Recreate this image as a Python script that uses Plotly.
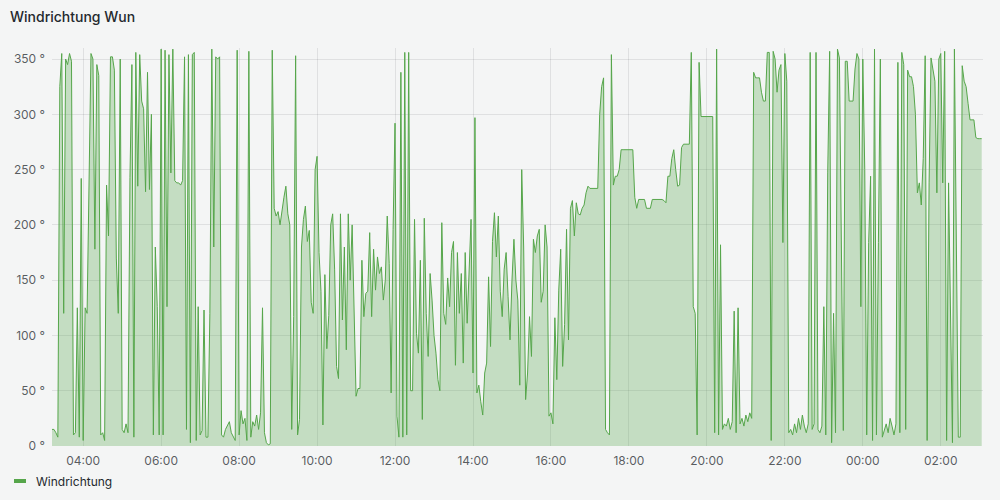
import plotly.graph_objects as go
import pandas as pd

title_text = "Windrichtung Wun"
series_name = "Windrichtung"
start_time = "2024-05-01 03:12"
step_minutes = 3
x_range = ["2024-05-01 03:12", "2024-05-02 03:05"]
x_tick_start = "2024-05-01 04:00"
y_tick_values = [0, 50, 100, 150, 200, 250, 300, 350]
y_tick_labels = ["0 °", "50 °", "100 °", "150 °", "200 °", "250 °", "300 °", "350 °"]

# wind direction (degrees), one reading every 3 minutes, grouped in 4-hour blocks
dir_0312 = [15, 15, 12, 8, 325, 355, 120, 350, 345, 355, 348, 10, 12, 125, 8, 242, 5, 125, 120, 240,
            355, 350, 178, 345, 335, 10, 12, 5, 236, 190, 352, 352, 340, 170, 120, 350, 15, 12, 20, 12,
            243, 345, 8, 356, 235, 354, 312, 305, 230, 338, 232, 300, 10, 180, 126, 10, 359, 10, 358, 126,
            354, 247, 359, 240, 238, 238, 236, 240, 352, 15, 354, 3, 354, 356, 5, 126, 10, 14, 123, 8]
dir_0712 = [8, 120, 359, 180, 352, 350, 352, 10, 8, 15, 18, 22, 12, 8, 5, 358, 10, 32, 20, 25,
            5, 357, 8, 22, 18, 28, 15, 30, 125, 12, 3, 1, 2, 358, 215, 208, 212, 200, 214, 225,
            235, 210, 200, 15, 117, 353, 10, 24, 180, 205, 217, 185, 195, 130, 120, 250, 262, 175, 140, 19,
            155, 88, 118, 200, 210, 160, 72, 61, 210, 114, 180, 87, 210, 150, 200, 120, 45, 52, 52, 168]
dir_1112 = [117, 138, 140, 193, 117, 178, 141, 171, 156, 162, 132, 150, 208, 165, 48, 196, 292, 27, 8, 338,
            8, 356, 10, 356, 50, 50, 205, 102, 84, 168, 24, 206, 120, 81, 156, 132, 100, 84, 60, 50,
            202, 120, 110, 152, 126, 175, 185, 73, 175, 120, 156, 75, 175, 111, 168, 205, 66, 297, 48, 55,
            40, 28, 66, 75, 153, 90, 185, 211, 171, 208, 140, 117, 160, 175, 135, 96, 150, 187, 150, 132]
dir_1512 = [55, 250, 180, 42, 66, 117, 81, 187, 175, 190, 196, 130, 140, 200, 180, 27, 30, 20, 116, 60,
            141, 178, 72, 110, 196, 96, 215, 222, 190, 220, 210, 209, 215, 218, 229, 235, 233, 233, 233, 233,
            233, 300, 325, 333, 15, 12, 10, 354, 236, 244, 244, 250, 268, 268, 268, 268, 268, 268, 268, 225,
            215, 223, 223, 223, 223, 215, 215, 215, 223, 223, 223, 223, 223, 223, 222, 220, 244, 244, 260, 268]
dir_1912 = [250, 235, 236, 270, 273, 273, 273, 273, 356, 126, 120, 10, 347, 298, 298, 298, 298, 298, 298, 298,
            12, 359, 10, 182, 15, 20, 18, 25, 15, 22, 122, 12, 125, 20, 25, 18, 28, 22, 30, 25,
            338, 333, 333, 333, 320, 312, 312, 356, 356, 5, 357, 350, 320, 340, 345, 184, 355, 330, 12, 15,
            10, 20, 12, 25, 15, 28, 18, 12, 20, 356, 15, 20, 356, 15, 12, 18, 126, 10, 247, 357]
dir_2312 = [3, 120, 12, 359, 351, 184, 14, 348, 348, 312, 312, 312, 341, 355, 350, 126, 350, 250, 10, 184,
            244, 5, 359, 10, 184, 350, 8, 15, 20, 12, 25, 18, 10, 20, 347, 12, 356, 345, 15, 340,
            334, 334, 325, 300, 229, 238, 218, 260, 353, 5, 238, 351, 340, 330, 229, 350, 355, 238, 357, 5,
            238, 117, 3, 359, 180, 8, 8, 344, 330, 325, 310, 295, 295, 295, 279, 278, 278, 278]

values = dir_0312 + dir_0712 + dir_1112 + dir_1512 + dir_1912 + dir_2312
times = pd.date_range(start_time, periods=len(values), freq=f"{step_minutes}min")

line_color = "#56A64B"
bg = "#F4F5F5"
grid = "rgba(36,41,46,0.10)"
text_color = "#24292E"
tick_color = "rgba(36,41,46,0.75)"
font_family = "Inter, 'Noto Sans', sans-serif"

fig = go.Figure()
fig.add_trace(go.Scatter(
    x=times, y=values, mode="lines", name=series_name,
    line=dict(color=line_color, width=1),
    fill="tozeroy", fillcolor="rgba(86,166,75,0.30)",
    showlegend=False,
))

L, R, T, B = 52, 17, 48, 54
W, H = 1000, 500
pw, ph = W - L - R, H - T - B

def px_x(p):
    return (p - L) / pw

def px_y(p):
    return (H - B - p) / ph

fig.update_layout(
    width=W, height=H, autosize=False,
    margin=dict(l=L, r=R, t=T, b=B),
    paper_bgcolor=bg, plot_bgcolor=bg,
    font=dict(family=font_family, size=12, color=tick_color),
    title=dict(text=title_text, x=10 / W, xref="container", xanchor="left",
               y=1 - 17 / H, yref="container", yanchor="middle",
               font=dict(family=font_family, size=14, color=text_color, weight=500)),
    showlegend=False,
    hovermode="x",
)
fig.update_xaxes(
    type="date", range=x_range, tick0=x_tick_start, dtick=2 * 3600 * 1000,
    tickformat="%H:%M", showgrid=True, gridcolor=grid, gridwidth=1,
    zeroline=False, showline=False, ticks="", ticklabelstandoff=6,
    tickfont=dict(size=12, color=tick_color),
)
fig.update_yaxes(
    range=[0, 360], tickvals=y_tick_values, ticktext=y_tick_labels,
    showgrid=True, gridcolor=grid, gridwidth=1, zeroline=False, showline=False,
    ticks="", ticklabelstandoff=6, tickfont=dict(size=12, color=tick_color),
)

# legend (Grafana-style: short thick line + label)
fig.add_shape(type="line", xref="paper", yref="paper",
              x0=px_x(14), x1=px_x(26), y0=px_y(481), y1=px_y(481),
              line=dict(color=line_color, width=4))
fig.add_annotation(text=series_name, xref="paper", yref="paper",
                   x=px_x(34), y=px_y(481), xanchor="left", yanchor="middle",
                   showarrow=False, font=dict(family=font_family, size=12, color=text_color))

fig.write_html(
    "out.html",
    config={"displayModeBar": False},
    post_script="document.body.style.margin='0';document.body.style.background='#F4F5F5';"
                "document.body.style.overflow='hidden';",
)
